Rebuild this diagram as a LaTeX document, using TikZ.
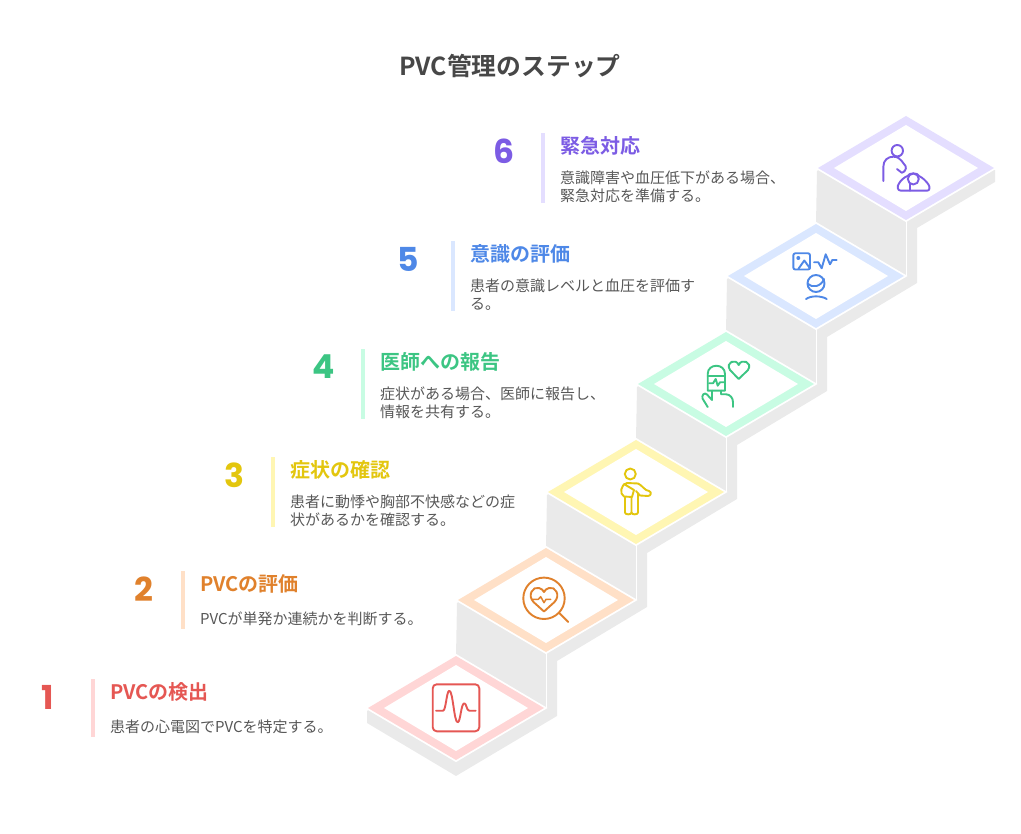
\documentclass[tikz,border=0pt]{standalone}
\usepackage{fontspec}
\setmainfont{Noto Sans CJK JP}[BoldFont={* Bold}]
\newfontfamily\numfont{Poppins}[BoldFont={* Bold}]
\definecolor{slabgray}{HTML}{EAEAEA}
\definecolor{redring}{HTML}{FFD6D6}
\definecolor{redtext}{HTML}{E55753}
\definecolor{orangering}{HTML}{FFE0C7}
\definecolor{orangetext}{HTML}{E0812C}
\definecolor{yellowring}{HTML}{FFF6B3}
\definecolor{yellowtext}{HTML}{E3C60E}
\definecolor{greenring}{HTML}{C8FCE3}
\definecolor{greentext}{HTML}{3CC583}
\definecolor{bluering}{HTML}{DAE7FF}
\definecolor{bluetext}{HTML}{4E88E7}
\definecolor{purplering}{HTML}{E4DEFF}
\definecolor{purpletext}{HTML}{7C5CE4}
\tikzset{
	titlelabel/.style={anchor=center, text=black!72, font=\fontsize{24.8}{28}\selectfont\bfseries},
	headlabel/.style={anchor=west, inner sep=0pt, font=\fontsize{20}{24}\selectfont\bfseries},
	bodylabel/.style={anchor=west, inner sep=0pt, align=left, text=black!66, font=\fontsize{15}{18}\selectfont},
	numlabel/.style={anchor=center, inner sep=0pt, font=\fontsize{33}{36}\selectfont\numfont\bfseries},
	iconline/.style={line width=1.9pt, line cap=round, line join=round},
}
\def\stepplate(#1,#2)#3{
	\draw[white, line width=3.6pt, line join=miter] (#1-88, #2) -- (#1, #2-52) -- (#1+88, #2) -- (#1, #2+52) -- cycle;
	\fill[#3] (#1-88, #2) -- (#1, #2-52) -- (#1+88, #2) -- (#1, #2+52) -- cycle;
	\fill[white] (#1-72, #2) -- (#1, #2-43) -- (#1+72, #2) -- (#1, #2+43) -- cycle;
}
\def\stepbar(#1,#2,#3)#4{\fill[#4] (#1, #2) rectangle (#1+4, #3);}

\begin{document}
\begin{tikzpicture}[x=1pt, y=-1pt]
	\useasboundingbox (0, 0) rectangle (1021, 834);
	%%%%% STAIR %%%%%
	\fill[slabgray] (367, 711) -- (456, 657) -- (457, 603) -- (546, 548) -- (547, 495) -- (636, 440) -- (637, 387) -- (726, 332) -- (727, 279) -- (816, 224) -- (817, 171) -- (906, 116) -- (995, 170) -- (995, 182) -- (917, 228) -- (917, 283) -- (827, 337) -- (827, 391) -- (737, 445) -- (737, 499) -- (647, 553) -- (647, 607) -- (557, 661) -- (557, 716) -- (456, 776) -- (367, 723) -- cycle;
	\draw[white, line width=1.5pt] (546.5, 652) -- (546.5, 708);
	\draw[white, line width=1.5pt] (636.5, 544) -- (636.5, 600);
	\draw[white, line width=1.5pt] (726.5, 436) -- (726.5, 492);
	\draw[white, line width=1.5pt] (816.5, 328) -- (816.5, 384);
	\draw[white, line width=1.5pt] (906.5, 220) -- (906.5, 276);

	\stepplate(456,708){redring}
	\stepplate(546,600){orangering}
	\stepplate(636,492){yellowring}
	\stepplate(726,384){greenring}
	\stepplate(816,276){bluering}
	\stepplate(906,168){purplering}

	%%%%% TEXT %%%%%
	\node[titlelabel] (title) at (510, 66) {PVC管理のステップ};

	\stepbar(91,679,737){redring}
	\node[numlabel, text=redtext] (num1) at (48, 697) {1};
	\node[headlabel, text=redtext] (head1) at (110, 692) {PVCの検出};
	\node[bodylabel] (body1) at (110, 727) {患者の心電図でPVCを特定する。};

	\stepbar(181,571,629){orangering}
	\node[numlabel, text=orangetext] (num2) at (144, 589) {2};
	\node[headlabel, text=orangetext] (head2) at (200, 584) {PVCの評価};
	\node[bodylabel] (body2) at (200, 619) {PVCが単発か連続かを判断する。};

	\stepbar(271,457,527){yellowring}
	\node[numlabel, text=yellowtext] (num3) at (234, 475) {3};
	\node[headlabel, text=yellowtext] (head3) at (290, 470) {症状の確認};
	\node[bodylabel] (body3) at (290, 511) {患者に動悸や胸部不快感などの症\\状があるかを確認する。};

	\stepbar(361,349,419){greenring}
	\node[numlabel, text=greentext] (num4) at (324, 367) {4};
	\node[headlabel, text=greentext] (head4) at (380, 362) {医師への報告};
	\node[bodylabel] (body4) at (380, 403) {症状がある場合、医師に報告し、\\情報を共有する。};

	\stepbar(451,241,311){bluering}
	\node[numlabel, text=bluetext] (num5) at (408, 259) {5};
	\node[headlabel, text=bluetext] (head5) at (470, 254) {意識の評価};
	\node[bodylabel] (body5) at (470, 295) {患者の意識レベルと血圧を評価す\\る。};

	\stepbar(541,133,203){purplering}
	\node[numlabel, text=purpletext] (num6) at (504, 151) {6};
	\node[headlabel, text=purpletext] (head6) at (560, 146) {緊急対応};
	\node[bodylabel] (body6) at (560, 187) {意識障害や血圧低下がある場合、\\緊急対応を準備する。};

	%%%%% ICONS %%%%%
	% monitor
	\draw[iconline, redtext, rounded corners=4pt] (432.7, 684.3) rectangle (479.3, 731.3);
	\draw[iconline, redtext] (436, 710.7) -- (443, 710.7) .. controls (446, 710.7) and (446.5, 690.7) .. (449.3, 690.7) .. controls (453, 690.7) and (454, 722.3) .. (457.7, 722.3) .. controls (460.5, 722.3) and (461, 703.3) .. (464.3, 703.3) .. controls (466.5, 703.3) and (466.5, 710.7) .. (469.3, 710.7) -- (475.7, 710.7);

	% magnifier
	\draw[iconline, orangetext] (544, 598.3) circle (20.7);
	\draw[iconline, orangetext] (559, 612.7) -- (568.3, 622);
	\draw[iconline, orangetext] (544, 611.5) -- (533.5, 602) .. controls (527, 595) and (533, 586) .. (539, 588) .. controls (541.5, 588.7) and (543, 590) .. (544, 592) .. controls (545, 590) and (546.5, 588.7) .. (549, 588) .. controls (555, 586) and (561, 595) .. (554.5, 602) -- cycle;
	\draw[iconline, orangetext, line width=1.5pt] (532, 599.3) -- (538.3, 599.3) -- (540.7, 596.7) -- (544, 602.7) -- (546, 599.3) -- (550.7, 599.3);

	% person with sling
	\draw[iconline, yellowtext] (630.3, 474) circle (5.5);
	\draw[iconline, yellowtext] (625, 497) -- (625, 512.5) .. controls (625, 515) and (631.5, 515) .. (631.5, 512.5) -- (631.5, 497);
	\draw[iconline, yellowtext] (631.5, 512.5) .. controls (631.5, 515) and (638, 515) .. (638, 512.5) -- (638, 494);
	\draw[iconline, yellowtext] (638, 483.5) .. controls (642, 485) and (645, 491) .. (649, 491) .. controls (652, 492) and (651, 496) .. (648, 496) -- (640, 495.5) -- (636, 491);
	\draw[iconline, yellowtext] (638, 483.5) -- (627, 483) .. controls (621, 484) and (619, 494) .. (624, 496.5) -- (632, 497) -- (634, 490) -- (624, 484);

	% drip and heart
	\draw[iconline, greentext] (738.7, 379) -- (730, 370) .. controls (725, 362) and (736, 358) .. (738.7, 365) .. controls (741.5, 358) and (753, 362) .. (748, 370) -- cycle;
	\draw[iconline, greentext] (707.7, 390.7) -- (707.7, 374) .. controls (707.7, 363) and (725, 363) .. (725, 374) -- (725, 390.7) -- cycle;
	\draw[iconline, greentext] (707.7, 375.7) -- (725, 375.7);
	\draw[iconline, greentext] (709, 383.3) -- (713, 383.3) -- (715.7, 379) -- (717.7, 385.7) -- (720, 382.3) -- (724.3, 382.3);
	\draw[iconline, greentext] (707.7, 407) -- (702.5, 398.5) .. controls (701.5, 395) and (704.5, 392) .. (707, 394.5) -- (712, 400) -- (712, 390.7);
	\draw[iconline, greentext] (721, 390.7) -- (721, 394.3) -- (726, 394.3) .. controls (730, 394.3) and (733, 398) .. (733, 402) -- (733, 407);

	% image, trace and person
	\draw[iconline, bluetext, rounded corners=2pt] (793.3, 253.3) rectangle (810, 269.5);
	\fill[bluetext] (798.3, 258) circle (2);
	\draw[iconline, bluetext] (798.3, 269) -- (804.3, 260.5) -- (810, 268.3);
	\draw[iconline, bluetext] (814, 262.3) -- (818.3, 262.3) -- (821.7, 268.3) -- (825.7, 254.3) -- (830, 264.3) -- (832.3, 260) -- (836.7, 260);
	\draw[iconline, bluetext] (816, 283.5) circle (8.5);
	\draw[iconline, bluetext] (808, 284) .. controls (812, 288) and (821, 287) .. (824, 279);
	\draw[iconline, bluetext] (806, 299) .. controls (811, 295.5) and (821, 295.5) .. (826.7, 299);

	% carer and patient
	\draw[iconline, purpletext] (897.3, 150.7) circle (5.7);
	\draw[iconline, purpletext] (883.3, 181) -- (883.3, 167) .. controls (883.3, 160) and (888, 156.7) .. (893.3, 156.7) .. controls (898, 156.7) and (900, 159) .. (901.7, 161) -- (905.5, 166) .. controls (907, 169) and (904, 172.7) .. (901.7, 172.7) -- (897, 169);
	\draw[iconline, purpletext] (901, 190.7) .. controls (897, 190.7) and (897, 186) .. (899, 183.5) .. controls (901, 180) and (904, 177.5) .. (907.5, 176) .. controls (909, 172.5) and (918, 172.5) .. (919, 176) .. controls (923, 178) and (926, 181) .. (928.5, 184.5) .. controls (930, 187) and (930, 190.7) .. (927, 190.7) -- cycle;
	\draw[iconline, purpletext] (913.3, 179) circle (5.5);
	\draw[iconline, purpletext] (910, 184) -- (910, 190.7);
\end{tikzpicture}
\end{document}
